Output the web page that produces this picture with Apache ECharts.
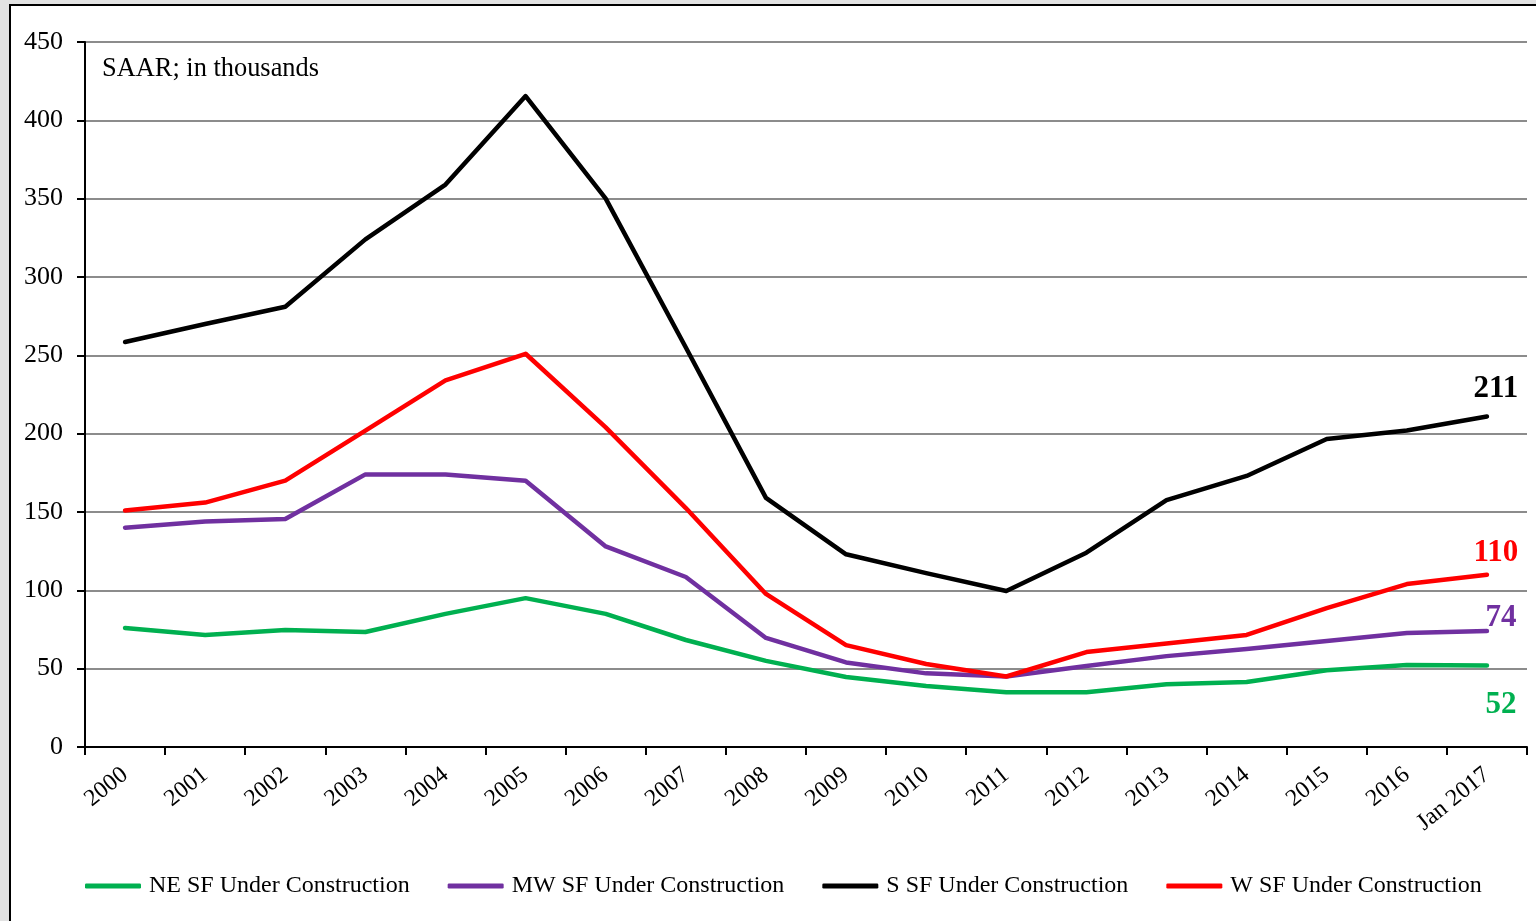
<!DOCTYPE html>
<html>
<head>
<meta charset="utf-8">
<script src="https://cdn.jsdelivr.net/npm/echarts@6/dist/echarts.min.js"></script>
<style>
html,body{margin:0;padding:0;background:#e2e2e2;}
#chart{width:1536px;height:921px;}
</style>
</head>
<body>
<div id="chart"></div>
<script>
var categories = ['2000','2001','2002','2003','2004','2005','2006','2007','2008','2009','2010','2011','2012','2013','2014','2015','2016','Jan 2017'];
var yTicks = [0,50,100,150,200,250,300,350,400,450];
var neValues = [76,71.5,74.7,73.4,85,95,85,68.3,55,44.7,39,35,35,40,41.5,49,52.3,52];
var mwValues = [140,144,145.5,174,174,170,128,108.5,69.6,54,47,45,51.7,58,62.5,67.7,72.8,74];
var sValues = [258.5,270,281,324,359,415.5,350,255,159,123,111,99.6,124,157.6,173,196.6,202,211];
var wValues = [151,156,170,202,234,251,204,152.5,97.7,65,53,45,60.6,66,71.5,88.7,104,110];
var seriesNames = ['NE SF Under Construction','MW SF Under Construction','S SF Under Construction','W SF Under Construction'];
var endLabels = ['52','74','211','110'];

var colors = ['#00b050','#7030a0','#000000','#ff0000'];
var labelOffsets = [[14,39],[14,-13],[9,-27],[9,-22]];
var allValues = [neValues, mwValues, sValues, wValues];
var FONT = '"Liberation Serif","Times New Roman",serif';

function buildData(vals, i){
  return vals.map(function(v, k){
    if (k === vals.length - 1) {
      return {
        value: v,
        symbol: 'circle',
        symbolSize: 0.1,
        label: {
          show: true,
          position: 'inside',
          offset: labelOffsets[i],
          formatter: endLabels[i],
          color: colors[i],
          fontFamily: FONT,
          fontWeight: 'bold',
          fontSize: 31
        }
      };
    }
    return v;
  });
}

var chart = echarts.init(document.getElementById('chart'));
var option = {
  animation: false,
  backgroundColor: 'transparent',
  graphic: [
    {type:'rect', z:-10, shape:{x:10,y:5,width:1540,height:930}, style:{fill:'#ffffff', stroke:'#000', lineWidth:2}},
    {type:'text', left:102, top:56, style:{text:'SAAR; in thousands', fontFamily:FONT, fontSize:26.4, fill:'#000'}}
  ],
  grid: {left:85, right:9, top:42, bottom:174, containLabel:false},
  legend: {
    bottom: 18,
    left: 80,
    itemGap: 38,
    itemWidth: 56,
    itemHeight: 5,
    icon: 'roundRect',
    textStyle: {fontFamily: FONT, fontSize: 24, color:'#000', padding:[0,0,0,3]},
    data: seriesNames
  },
  xAxis: {
    type: 'category',
    data: categories,
    boundaryGap: true,
    axisLine: {lineStyle:{color:'#000', width:2}},
    axisTick: {show:true, length:8, lineStyle:{color:'#000', width:2}},
    axisLabel: {rotate:39, margin:25, fontFamily:FONT, fontSize:24, color:'#000', interval:0}
  },
  yAxis: {
    type: 'value',
    min: yTicks[0],
    max: yTicks[yTicks.length-1],
    interval: 50,
    axisLine: {show:true, lineStyle:{color:'#000', width:2}},
    axisTick: {show:true, length:8, lineStyle:{color:'#000', width:2}},
    axisLabel: {fontFamily:FONT, fontSize:26, color:'#000', margin:22},
    splitLine: {lineStyle:{color:'#8c8c8c', width:2}}
  },
  series: allValues.map(function(vals, i){
    return {
      name: seriesNames[i],
      type: 'line',
      data: buildData(vals, i),
      symbol: 'none',
      color: colors[i],
      lineStyle: {width:4.5, color: colors[i], cap:'round', join:'round'},
      z: 2 + i
    };
  })
};
chart.setOption(option);
</script>
</body>
</html>
